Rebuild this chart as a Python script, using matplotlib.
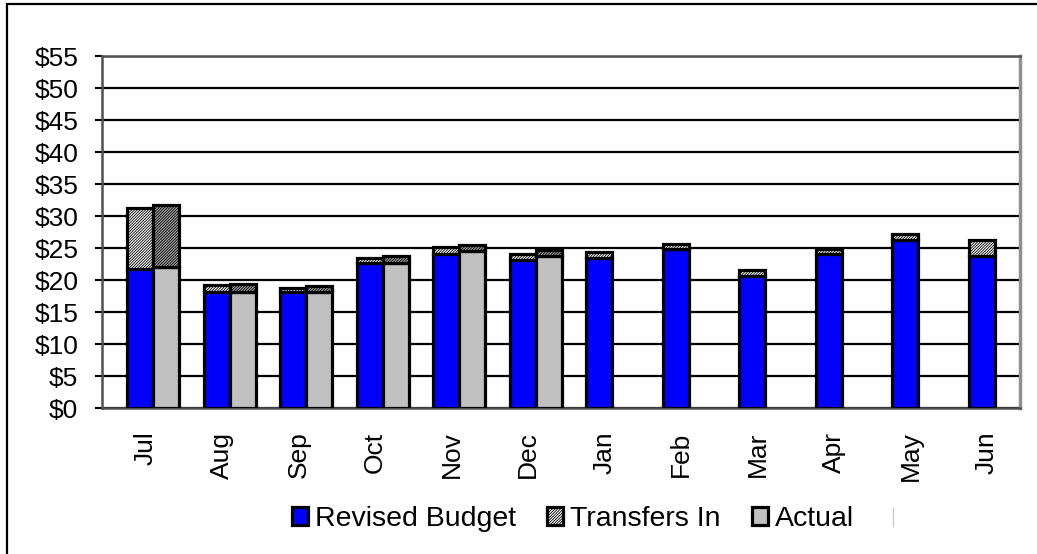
import matplotlib.pyplot as plt
import numpy as np
from matplotlib.lines import Line2D
from matplotlib.patches import Rectangle

plt.rcParams['font.family'] = ['Liberation Sans', 'DejaVu Sans']
plt.rcParams['hatch.linewidth'] = 0.6

months = ['Jul', 'Aug', 'Sep', 'Oct', 'Nov', 'Dec',
          'Jan', 'Feb', 'Mar', 'Apr', 'May', 'Jun']
budget = [21.7, 18.1, 18.1, 22.6, 24.1, 23.1, 23.4, 24.9, 20.6, 24.0, 26.3, 23.7]
budget_transfers = [9.5, 1.1, 0.7, 0.9, 1.0, 0.9, 0.9, 0.8, 0.9, 0.9, 0.9, 2.5]
actual = [22.0, 18.1, 18.1, 22.7, 24.5, 23.7]
actual_transfers = [9.7, 1.2, 0.9, 1.1, 1.0, 1.0]

fig = plt.figure(figsize=(10.37, 5.54), dpi=100)
ax = fig.add_axes([102 / 1037, 1 - 408 / 554, 918 / 1037, 352 / 554])

x = np.arange(len(months))
xa = np.arange(len(actual))
w = 0.34
edge = dict(edgecolor='black', linewidth=2.3, zorder=3)

b1 = ax.bar(x, budget, w, color='#0000ff', **edge)
b2 = ax.bar(x, budget_transfers, w, bottom=budget, color='white',
            hatch='/' * 12, **edge)
b3 = ax.bar(xa + w, actual, w, color='#c0c0c0', **edge)
ax.bar(xa + w, actual_transfers, w, bottom=actual, color='#a8a8a8',
       hatch='/' * 12, **edge)

ax.set_xlim(-0.5, len(months) - 0.5)
ax.set_ylim(0, 55)
ax.set_yticks(np.arange(0, 56, 5))
ax.set_yticklabels(['$%d' % v for v in range(0, 56, 5)])
ax.set_xticks(x + w / 2 - 0.1)
ax.set_xticklabels(months, rotation=90)
ax.tick_params(axis='y', length=5, width=1.5, color='black', labelsize=19, pad=12)
ax.tick_params(axis='x', length=0, labelsize=19, pad=17)

ax.yaxis.grid(True, color='black', linewidth=1.6, zorder=0)
ax.set_axisbelow(True)
for side in ['left', 'bottom', 'top']:
    ax.spines[side].set_color('#505050')
    ax.spines[side].set_linewidth(1.8)
ax.spines['right'].set_color('#909090')
ax.spines['right'].set_linewidth(2.5)

blank = Line2D([], [], color='#cccccc', marker='|', markersize=14,
               linestyle='none')
fig.legend([b1, b2, b3, blank], ['Revised Budget', 'Transfers In', 'Actual', ''],
           loc='center', bbox_to_anchor=(600 / 1037, 1 - 519 / 554), ncol=4,
           frameon=False, fontsize=20.5, handlelength=0.55, handleheight=0.55,
           handletextpad=0.25, columnspacing=1.1)

# outer chart border
fig.add_artist(Rectangle((7 / 1037, -0.1), 1.2, 1.1 - 4 / 554,
                         transform=fig.transFigure, fill=False,
                         edgecolor='black', linewidth=1.6))

plt.savefig('out.png', dpi=100)
